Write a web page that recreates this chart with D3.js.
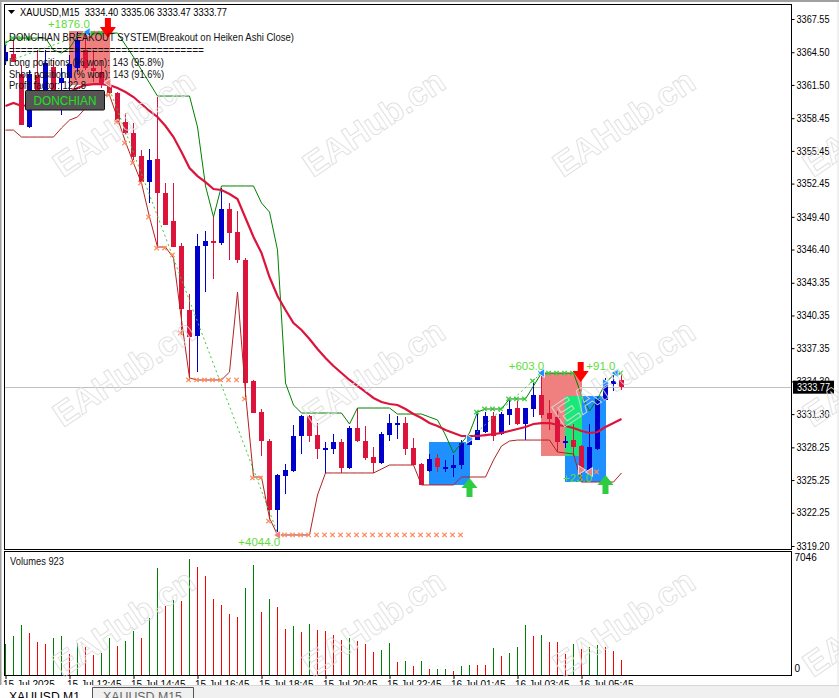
<!DOCTYPE html>
<html><head><meta charset="utf-8">
<script src="https://cdn.jsdelivr.net/npm/d3@7"></script>
<style>html,body{margin:0;padding:0;background:#fff;overflow:hidden}svg{display:block}text{font-family:"Liberation Sans",Arial,sans-serif}</style>
</head><body><div id="chart"></div>
<script>
const opens=[3363.69,3364.34,3362.50,3357.64,3362.41,3361.03,3363.14,3361.68,3362.13,3363.05,
3364.70,3363.05,3362.68,3361.49,3360.76,3358.10,3357.09,3354.98,3352.59,3354.70,
3351.58,3349.02,3346.72,3340.85,3338.47,3346.72,3347.18,3347.00,3350.12,3348.01,
3345.44,3334.34,3331.49,3328.83,3322.50,3325.62,3326.08,3329.29,3331.13,3329.38,
3328.19,3328.10,3328.74,3326.36,3330.03,3328.83,3327.36,3326.81,3329.38,3330.48,
3330.48,3328.19,3326.72,3326.08,3327.27,3326.42,3326.36,3326.63,3328.47,3328.92,
3329.66,3331.13,3329.47,3331.22,3331.86,3330.39,3331.77,3333.05,3331.40,3331.03,
3328.80,3328.92,3328.37,3326.17,3328.10,3332.59,3334.06,3334.40];
const highs=[3365.16,3365.80,3363.33,3362.87,3364.70,3364.70,3363.79,3363.05,3364.24,3366.35,
3366.26,3364.70,3363.79,3361.77,3360.85,3358.92,3358.01,3355.53,3355.62,3360.39,
3352.50,3352.50,3347.00,3342.32,3347.82,3348.10,3349.38,3352.04,3350.67,3349.93,
3345.62,3334.43,3331.77,3329.02,3325.81,3326.72,3330.30,3331.22,3331.22,3330.48,
3328.74,3329.47,3329.02,3330.21,3331.86,3330.21,3328.28,3329.66,3331.31,3331.13,
3331.03,3329.11,3326.81,3327.64,3327.64,3327.09,3327.55,3328.92,3329.38,3331.49,
3331.49,3331.49,3331.49,3332.59,3332.50,3331.86,3334.15,3335.07,3332.59,3331.58,
3329.29,3330.39,3328.47,3330.39,3332.87,3334.61,3335.16,3335.06];
const lows=[3363.33,3363.60,3357.82,3357.55,3360.57,3360.85,3360.85,3358.74,3361.03,3362.68,
3362.87,3361.77,3361.22,3360.57,3358.10,3356.90,3354.61,3352.32,3350.67,3346.54,
3348.65,3346.63,3338.56,3334.43,3335.16,3342.50,3343.69,3346.81,3345.44,3345.16,
3332.59,3331.40,3327.46,3321.59,3320.39,3323.97,3325.99,3327.64,3328.74,3327.18,
3325.90,3327.64,3325.90,3326.26,3328.74,3327.09,3325.90,3326.72,3328.83,3329.02,
3327.55,3326.63,3324.80,3325.99,3325.99,3325.99,3325.53,3326.26,3328.47,3328.92,
3329.57,3328.83,3329.38,3330.30,3330.30,3328.92,3331.03,3330.94,3329.84,3327.82,
3328.19,3327.46,3325.07,3325.90,3328.01,3332.59,3333.42,3333.47];
const closes=[3364.52,3363.60,3357.82,3362.50,3360.85,3363.51,3361.03,3362.13,3363.42,3365.62,
3363.05,3362.78,3361.49,3360.76,3358.10,3357.09,3354.89,3352.59,3354.61,3351.58,
3348.65,3346.63,3340.94,3338.37,3346.72,3347.18,3347.00,3350.12,3347.91,3345.44,
3334.15,3331.40,3328.83,3322.50,3325.71,3326.17,3329.29,3331.13,3329.29,3328.10,
3328.22,3328.74,3326.36,3330.03,3328.83,3327.27,3326.81,3329.47,3330.48,3330.52,
3328.10,3326.63,3324.80,3327.18,3326.45,3326.45,3326.63,3328.65,3329.20,3329.84,
3331.13,3329.29,3331.31,3331.77,3330.39,3331.86,3333.05,3331.22,3330.85,3328.74,
3328.85,3328.28,3326.17,3328.28,3332.69,3334.06,3334.34,3333.77];
const volumes=[1868,2355,3025,2538,1990,1868,2234,2355,1259,1929,1685,1198,1320,2234,1746,2051,2660,2234,3452,6498,
4183,4548,4487,7046,6559,6010,4609,4244,3696,3513,5279,6680,3817,4609,4122,2782,2965,2599,3086,2721,
2660,2416,2112,2234,2051,1868,1381,1503,1929,772,833,528,833,345,346,347,223,528,589,588,
587,1624,1137,1320,1685,3025,2355,2416,1990,1989,1259,1868,1563,1685,1807,1685,1442,893];
const donchianUpper=[3365.34,3365.80,3365.80,3365.80,3365.80,3365.80,3364.70,3364.43,3364.89,3365.99,
3366.26,3366.26,3366.26,3366.26,3366.26,3365.16,3364.06,3362.87,3361.68,3360.48,
3360.48,3360.48,3360.48,3360.48,3357.64,3352.23,3349.38,3352.23,3352.23,3352.23,
3352.23,3352.23,3350.67,3349.84,3346.36,3334.15,3332.14,3331.40,3331.40,3331.40,
3331.40,3331.40,3331.40,3330.39,3331.86,3331.86,3331.86,3331.86,3331.86,3331.31,
3331.31,3331.31,3331.31,3331.03,3330.76,3329.38,3327.73,3328.65,3329.57,3331.49,
3331.77,3331.77,3331.77,3332.69,3332.69,3332.69,3333.88,3335.07,3335.07,3335.07,
3335.07,3335.07,3333.05,3331.58,3332.69,3334.15,3334.89,3335.07];
const donchianLower=[3357.36,3357.36,3356.72,3356.72,3356.72,3356.72,3356.72,3357.55,3358.28,3358.56,
3359.38,3360.12,3360.57,3360.57,3358.46,3356.26,3354.34,3352.50,3349.38,3346.63,
3346.63,3345.62,3339.93,3334.61,3334.43,3334.43,3334.43,3334.43,3335.16,3342.50,
3333.24,3325.53,3325.53,3321.77,3320.21,3320.21,3320.21,3320.21,3320.21,3323.88,
3325.90,3325.90,3325.90,3325.90,3325.90,3325.90,3325.90,3326.26,3326.63,3326.63,
3326.63,3326.63,3324.80,3324.80,3324.80,3324.80,3324.80,3325.53,3325.53,3325.53,
3325.53,3327.09,3328.37,3328.83,3328.92,3328.92,3328.92,3328.92,3328.92,3327.82,
3327.73,3327.64,3325.07,3325.07,3325.07,3325.07,3325.07,3325.90];
const movingAverage=[3359.57,3359.84,3359.57,3359.66,3359.75,3359.93,3360.12,3360.39,3360.85,3361.22,
3361.49,3361.58,3361.58,3361.49,3361.22,3360.85,3360.39,3359.75,3359.11,3358.56,
3357.73,3356.72,3355.35,3353.88,3353.14,3352.59,3351.95,3351.86,3351.49,3351.03,
3349.29,3347.55,3346.08,3343.88,3342.14,3340.85,3339.66,3339.02,3338.19,3337.27,
3336.45,3335.71,3335.07,3334.43,3333.88,3333.33,3332.78,3332.41,3332.23,3332.14,
3331.77,3331.31,3330.94,3330.48,3330.21,3329.84,3329.57,3329.29,3329.29,3329.29,
3329.38,3329.47,3329.57,3329.75,3329.93,3330.12,3330.39,3330.48,3330.48,3330.30,
3330.21,3330.03,3329.75,3329.57,3329.66,3330.12,3330.48,3330.85];
const priceTicks=[3367.55,3364.50,3361.50,3358.45,3355.45,3352.45,3349.40,3346.40,3343.35,3340.35,3337.35,3334.30,3331.30,3328.25,3325.25,3322.25,3319.20];
const lastPrice=3333.77;
const dateTickBars=[0,8,16,24,32,40,48,56,64,72];
const dateTickLabels=["15 Jul 2025","15 Jul 12:45","15 Jul 14:45","15 Jul 16:45","15 Jul 18:45","15 Jul 20:45","15 Jul 22:45","16 Jul 01:45","16 Jul 03:45","16 Jul 05:45"];
const volumeTicks=[7046,0];
const boxBars=[[8,13],[67,72],[53,58],[70,75],[70,72]];
const boxPrices=[[3366.45,3361.49],[3335.07,3327.46],[3328.74,3324.80],[3332.96,3325.07],[3332.96,3327.46]];
const boxColors=["#f08080","#f08080","#1e90ff","#1e90ff","#18e877"];
const tradeBars=[[0,10.2],[12.8,34],[58,67],[75,76.2]];
const tradePrices=[[3363.60,3366.26],[3361.49,3320.39],[3329.02,3335.07],[3334.15,3335.07]];
const shortCrossBars=[13,14,15,16,17,18,19,20,21,22,23,24,25,26,27,28,29,30,31,32,33,35,36,37,38,39,40,41,42,43,44,45,46,47,48,49,50,51,52,53,54,55,56,57,74];
const shortCrossPrices=[3360.57,3358.10,3356.17,3354.34,3352.50,3349.38,3346.54,3346.54,3345.90,3338.74,3334.43,3334.43,3334.43,3334.43,3334.43,3334.43,3334.43,3332.69,3325.44,3325.44,3321.49,3320.21,3320.21,3320.21,3320.21,3320.21,3320.21,3320.21,3320.21,3320.21,3320.21,3320.21,3320.21,3320.21,3320.21,3320.21,3320.21,3320.21,3320.21,3320.21,3320.21,3320.21,3320.21,3320.21,3325.99];
const longCrossBars=[0,1,2,3,11,12,59,60,61,62,63,64,65,66,67,68,69,70,71,77];
const longCrossPrices=[3365.34,3365.80,3365.80,3365.80,3366.26,3366.26,3331.49,3331.77,3331.77,3331.77,3332.69,3332.69,3332.69,3334.34,3335.07,3335.07,3335.07,3335.07,3335.07,3335.07];
const blueMarkBars=[10.2,67,76.2,75,58];
const blueMarkPrices=[3366.35,3335.07,3335.07,3334.15,3329.02];
const blueMarkDirs=[-1,-1,-1,1,1];
const pinkMarkBars=[34,12.8,73,72];
const pinkMarkPrices=[3320.21,3361.70,3325.99,3326.17];
const pinkMarkDirs=[-1,-1,-1,1];
const downArrowBars=[12.8,71.9];
const downArrowPrices=[3365.80,3334.25];
const upArrowBars=[58,75];
const upArrowPrices=[3325.44,3325.71];
const profitLabels=["+1876.0","+4044.0","+603.0","+91.0","+23.0"];
const profitBars=[5.3,29.1,62.9,72.6,69.7];
const profitPrices=[3366.72,3319.20,3335.35,3335.35,3325.07];
const infoLines=["DONCHIAN BREAKOUT SYSTEM(Breakout on Heiken Ashi Close)","=================================","Long positions (% won): 143 (95.8%)","Short positions (% won): 143 (91.6%)","Profit factor: 122.8"];
const infoWidths=[285,195,155,155,77];
const infoY=[41,54,66,78,89];

const W=839,H=698;
const plot={l:4,r:791,t:4,b:549,vt:551,vb:675};
const svg=d3.select("#chart").append("svg").attr("width",W).attr("height",H);
const x=d3.scaleLinear().domain([0,77]).range([5.5,621.5]);
const y=d3.scaleLinear().domain([3319.20,3367.55]).range([546,19]);
const yVol=d3.scaleLinear().domain([0,7046]).range([plot.vb,559]);
const bars=d3.range(opens.length);

svg.append("rect").attr("x",0).attr("y",0).attr("width",W).attr("height",2).attr("fill","#a0a0a0");
svg.append("rect").attr("x",0).attr("y",0).attr("width",1.5).attr("height",H).attr("fill","#a0a0a0");
svg.append("rect").attr("x",837).attr("y",2).attr("width",2).attr("height",H).attr("fill","#f0f0f0");

const defs=svg.append("defs");
defs.append("clipPath").attr("id","mainClip").append("rect").attr("x",plot.l).attr("y",plot.t).attr("width",plot.r-plot.l).attr("height",plot.b-plot.t);
const main=svg.append("g").attr("clip-path","url(#mainClip)");

main.append("line").attr("x1",plot.l).attr("x2",plot.r).attr("y1",Math.round(y(lastPrice))+.5).attr("y2",Math.round(y(lastPrice))+.5).attr("stroke","#c0c0c0");

boxColors.forEach((c,k)=>{
  main.append("rect").attr("x",x(boxBars[k][0])-.5).attr("width",x(boxBars[k][1])-x(boxBars[k][0])+1)
    .attr("y",y(boxPrices[k][0])).attr("height",y(boxPrices[k][1])-y(boxPrices[k][0])).attr("fill",c);
});

const crisp=main.append("g").attr("shape-rendering","crispEdges");
crisp.selectAll(".wick").data(bars).join("rect").attr("x",i=>x(i)-.5).attr("width",1)
  .attr("y",i=>Math.round(y(highs[i]))).attr("height",i=>Math.max(1,Math.round(y(lows[i])-y(highs[i]))))
  .attr("fill",i=>closes[i]>=opens[i]?"#0000cd":"#dc143c");
crisp.selectAll(".body").data(bars).join("rect").attr("x",i=>x(i)-2.5).attr("width",5)
  .attr("y",i=>Math.round(y(Math.max(opens[i],closes[i])))).attr("height",i=>Math.max(1.5,Math.round(Math.abs(y(opens[i])-y(closes[i])))))
  .attr("fill",i=>closes[i]>=opens[i]?"#0000cd":"#dc143c");

const line=arr=>d3.line().x((d,i)=>x(i)).y(d=>y(d))(arr);
main.append("path").attr("d",line(donchianUpper)).attr("fill","none").attr("stroke","#008000").attr("stroke-width",1);
main.append("path").attr("d",line(donchianLower)).attr("fill","none").attr("stroke","#b22222").attr("stroke-width",1);
main.append("path").attr("d",line(movingAverage)).attr("fill","none").attr("stroke","#dc143c").attr("stroke-width",2.2);

tradeBars.forEach((b,k)=>{
  main.append("line").attr("x1",x(b[0])).attr("x2",x(b[1])).attr("y1",y(tradePrices[k][0])).attr("y2",y(tradePrices[k][1]))
    .attr("stroke","#32cd32").attr("stroke-width",1).attr("stroke-dasharray","2,3");
});

const cross=(bs,ps,color)=>bs.forEach((b,k)=>{
  const cx=x(b)-1,cy=y(ps[k]),r=2.2;
  main.append("path").attr("d",`M${cx-r},${cy-r}L${cx+r},${cy+r}M${cx-r},${cy+r}L${cx+r},${cy-r}`).attr("stroke",color).attr("stroke-width",1.2).attr("fill","none");
});
cross(shortCrossBars,shortCrossPrices,"#ff8c5a");
cross(longCrossBars,longCrossPrices,"#32cd32");

const tri=(bs,ps,ds,color)=>bs.forEach((b,k)=>{
  const cx=x(b),cy=y(ps[k]),d=ds[k];
  main.append("path").attr("d",`M${cx+d*4},${cy}L${cx-d*3},${cy-4.5}L${cx-d*3},${cy+4.5}Z`).attr("fill",color).attr("stroke","#fff").attr("stroke-width",.8);
});
tri(blueMarkBars,blueMarkPrices,blueMarkDirs,"#1e90ff");
tri(pinkMarkBars,pinkMarkPrices,pinkMarkDirs,"#f08080");

downArrowBars.forEach((b,k)=>{
  const cx=x(b),ty=y(downArrowPrices[k]);
  main.append("path").attr("d",`M${cx},${ty}L${cx-8},${ty-11}L${cx-3},${ty-11}L${cx-3},${ty-20}L${cx+3},${ty-20}L${cx+3},${ty-11}L${cx+8},${ty-11}Z`).attr("fill","#ff0000");
});
upArrowBars.forEach((b,k)=>{
  const cx=x(b),ty=y(upArrowPrices[k]);
  main.append("path").attr("d",`M${cx},${ty}L${cx-8},${ty+10}L${cx-3},${ty+10}L${cx-3},${ty+19}L${cx+3},${ty+19}L${cx+3},${ty+10}L${cx+8},${ty+10}Z`).attr("fill","#2ecc40");
});

profitLabels.forEach((t,k)=>{
  main.append("text").attr("x",x(profitBars[k])).attr("y",y(profitPrices[k])).text(t).attr("font-size",11.5).attr("fill","#5fdc3a");
});

infoLines.forEach((t,k)=>{
  svg.append("text").attr("x",9).attr("y",infoY[k]).text(t).attr("font-size",10.5).attr("fill","#111")
    .attr("textLength",infoWidths[k]).attr("lengthAdjust","spacingAndGlyphs");
});
svg.append("path").attr("d","M8,10L15,10L11.5,14Z").attr("fill","#000");
svg.append("text").attr("x",20).attr("y",16).text("XAUUSD,M15\u00a0\u00a03334.40 3335.06 3333.47 3333.77").attr("font-size",10.5).attr("fill","#000")
  .attr("textLength",207).attr("lengthAdjust","spacingAndGlyphs");
svg.append("rect").attr("x",25.5).attr("y",90.5).attr("width",79).attr("height",19.5).attr("fill","#555").attr("stroke","#111").attr("rx",1);
svg.append("text").attr("x",65).attr("y",105).attr("text-anchor","middle").text("DONCHIAN").attr("font-size",13).attr("fill","#22e022")
  .attr("textLength",63).attr("lengthAdjust","spacingAndGlyphs");

// panel frames
svg.append("rect").attr("x",plot.l+.5).attr("y",plot.t+.5).attr("width",plot.r-plot.l).attr("height",plot.b-plot.t).attr("fill","none").attr("stroke","#000");
svg.append("rect").attr("x",plot.l+.5).attr("y",plot.vt+.5).attr("width",plot.r-plot.l).attr("height",plot.vb-plot.vt).attr("fill","none").attr("stroke","#000");

// volumes
svg.append("g").attr("shape-rendering","crispEdges").selectAll("rect").data(bars).join("rect")
  .attr("x",i=>x(i)-.5).attr("width",1).attr("y",i=>yVol(volumes[i])).attr("height",i=>plot.vb-yVol(volumes[i]))
  .attr("fill",i=>(i===0||volumes[i]>volumes[i-1])?"#008000":"#ff0000");
svg.append("text").attr("x",10).attr("y",565).text("Volumes 923").attr("font-size",10.5).attr("fill","#111")
  .attr("textLength",54).attr("lengthAdjust","spacingAndGlyphs");

// axes
const priceAxis=svg.append("g").attr("transform",`translate(${plot.r+.5},0)`)
  .call(d3.axisRight(y).tickValues(priceTicks).tickFormat(d3.format(".2f")).tickSize(3).tickPadding(2));
priceAxis.select(".domain").remove();
priceAxis.selectAll("text").attr("font-size",10).attr("font-family",'"Liberation Sans"').attr("fill","#000").attr("textLength",33).attr("lengthAdjust","spacingAndGlyphs");
const volAxis=svg.append("g").attr("transform",`translate(${plot.r+.5},0)`)
  .call(d3.axisRight(yVol).tickValues(volumeTicks).tickFormat(d3.format("d")).tickSize(0).tickPadding(3));
volAxis.select(".domain").remove();
volAxis.selectAll("text").attr("font-size",10).attr("font-family",'"Liberation Sans"').attr("fill","#000")
  .attr("dy",d=>d===0?"-0.4em":"0.1em");

const dateAxis=svg.append("g").attr("transform",`translate(0,${plot.vb})`)
  .call(d3.axisBottom(x).tickValues(dateTickBars).tickFormat((d,k)=>dateTickLabels[k]).tickSize(4).tickPadding(2));
dateAxis.select(".domain").remove();
dateAxis.selectAll("text").attr("text-anchor","start").attr("dx","-0.3em").attr("font-size",10).attr("font-family",'"Liberation Sans"').attr("fill","#000");

// last price tag
svg.append("rect").attr("x",793).attr("y",y(lastPrice)-6.5).attr("width",41).attr("height",13).attr("fill","#000");
svg.append("text").attr("x",797).attr("y",y(lastPrice)+4).text(d3.format(".2f")(lastPrice)).attr("font-size",10).attr("fill","#fff")
  .attr("textLength",33).attr("lengthAdjust","spacingAndGlyphs");

// tab bar
svg.append("rect").attr("x",0).attr("y",685).attr("width",W).attr("height",13).attr("fill","#f0f0f0");
svg.append("rect").attr("x",0).attr("y",685).attr("width",W).attr("height",1).attr("fill","#d8d8d8");
svg.append("rect").attr("x",0).attr("y",685).attr("width",92).attr("height",13).attr("fill","#fff");
svg.append("path").attr("d","M92.5,698V687.5H193.5V698").attr("fill","none").attr("stroke","#555");
svg.append("text").attr("x",9).attr("y",701).text("XAUUSD,M1").attr("font-size",12).attr("fill","#000").attr("textLength",71).attr("lengthAdjust","spacingAndGlyphs");
svg.append("text").attr("x",103).attr("y",701).text("XAUUSD,M15").attr("font-size",12).attr("fill","#666").attr("textLength",79).attr("lengthAdjust","spacingAndGlyphs");

// watermark
const wmX=[63,313,563,813],wmY=[178,428,678];
wmY.forEach(b=>wmX.forEach(a=>{
  svg.append("text").attr("transform",`translate(${a},${b}) rotate(-34)`).text("EAHub.cn")
    .attr("font-size",34).attr("font-weight","bold").attr("fill","none").attr("stroke","#dcdcdc").attr("stroke-width",.8).attr("font-family",'"Liberation Sans"');
}));
</script></body></html>
